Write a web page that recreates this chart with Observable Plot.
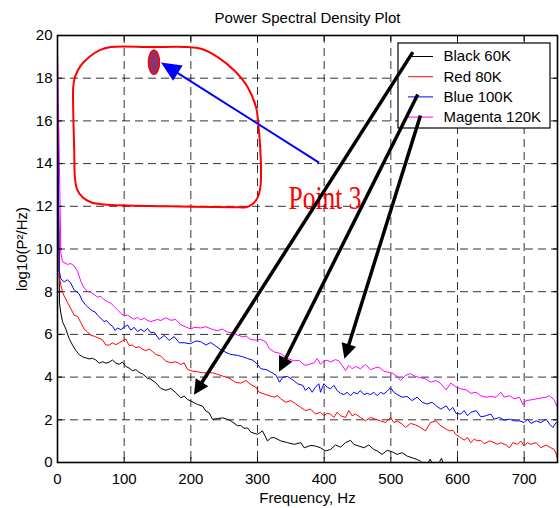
<!DOCTYPE html>
<html>
<head>
<meta charset="utf-8">
<script src="https://cdn.jsdelivr.net/npm/d3@7"></script>
<script src="https://cdn.jsdelivr.net/npm/@observablehq/plot@0.6"></script>
<style>
html, body { margin: 0; padding: 0; background: #fff; }
#chart { width: 560px; height: 508px; }
</style>
</head>
<body>
<div id="chart"></div>
<script>
// ---------- text ----------
const title = "Power Spectral Density Plot";
const xLabel = "Frequency, Hz";
const yLabel = "log10(P²/Hz)";
const annotationText = "Point 3";

// ---------- ticks ----------
const xTicks = [0, 100, 200, 300, 400, 500, 600, 700];
const yTicks = [0, 2, 4, 6, 8, 10, 12, 14, 16, 18, 20];

// ---------- series ----------
const seriesNames = ["Black 60K", "Red 80K", "Blue 100K", "Magenta 120K"];
const seriesColors = ["#000000", "#ff0000", "#0000ff", "#ff00ff"];

// [frequency Hz, log10(P^2/Hz)]
const black60K = [
  [0, 17.0], [3, 7.46], [5, 7.0], [7.5, 6.6], [12.5, 6.25], [17.5, 5.8], [22.5, 5.5], [27.5, 5.25],
  [32.5, 5.05], [37.5, 4.95], [42.5, 4.9], [47.5, 4.85], [52.5, 4.88], [57.5, 4.8], [62.5, 4.65],
  [67.5, 4.72], [72.5, 4.65], [77.5, 4.7], [82.5, 4.8], [87.5, 4.66], [92.5, 4.6], [97.5, 4.7],
  [102.5, 4.5], [107.5, 4.42], [112.5, 4.3], [117.5, 4.35], [122.5, 4.22], [127.5, 4.15], [135, 3.95],
  [140, 3.9], [147.5, 3.73], [155, 3.47], [162.5, 3.38], [170, 3.47], [177.5, 3.27], [185, 3.03],
  [190, 3.11], [195, 2.95], [200, 2.88], [205, 2.8], [210, 2.72], [217.5, 2.64], [222.5, 2.41],
  [227.5, 2.33], [232.5, 2.02], [240, 2.06], [247.5, 2.09], [255, 2.02], [260, 1.95], [270, 1.72],
  [275, 1.73], [280, 1.6], [285, 1.62], [290, 1.42], [300, 1.32], [307.5, 1.48], [315, 1.01],
  [320, 1.15], [325, 1.17], [335, 1.01], [345, 0.93], [355, 0.85], [365, 0.93], [370, 0.69],
  [380, 0.8], [387, 0.77], [394.5, 0.69], [402, 0.54], [409.5, 0.61], [417, 0.82], [424.5, 0.72],
  [432, 0.93], [439.5, 1.04], [444.5, 0.85], [452, 0.77], [459.5, 0.69], [467, 0.82], [474.5, 0.61],
  [479.5, 0.54], [487, 0.38], [494.5, 0.57], [502, 0.5], [509.5, 0.38], [517, 0.46], [524.5, 0.3],
  [532, 0.22], [539.5, 0.14], [544.5, 0.06], [549.5, -0.1], [555, -0.05], [559, 0.15], [563, -0.1],
  [570, -0.15], [576, 0.2], [580, -0.2], [590, -0.4], [610, -0.5]
];
const red80K = [
  [0, 17.6], [2.5, 8.7], [5, 8.3], [7.5, 8.0], [10, 7.8], [15, 7.5], [20, 7.2], [25, 6.9], [30, 6.85],
  [35, 6.55], [40, 6.25], [45, 6.12], [50, 5.95], [55, 5.92], [60, 5.85], [67.5, 5.75], [72.5, 5.5],
  [77.5, 5.5], [82.5, 5.6], [87.5, 5.52], [92.5, 5.6], [97.5, 5.7], [102.5, 5.78], [107.5, 5.48],
  [112.5, 5.5], [117.5, 5.38], [122.5, 5.42], [127.5, 5.3], [132.5, 5.24], [137.5, 5.32], [142.5, 5.2],
  [147.5, 5.06], [155, 4.98], [162.5, 4.75], [170, 4.67], [177.5, 4.72], [185, 4.59], [190, 4.67],
  [195, 4.36], [202.5, 4.28], [210, 4.25], [217.5, 4.2], [225, 4.2], [232.5, 4.2], [240, 4.13],
  [247.5, 4.05], [255, 3.98], [260, 3.9], [267.5, 3.75], [275, 3.72], [282.5, 3.84], [290, 3.65],
  [297.5, 3.53], [302.5, 3.29], [310, 3.21], [317.5, 3.13], [325, 3.06], [330, 3.13], [335, 2.98],
  [342.5, 2.82], [350, 2.9], [357.5, 2.74], [365, 2.58], [372, 2.43], [379.5, 2.5], [387, 2.27],
  [394.5, 2.35], [399.5, 2.19], [404.5, 2.3], [409.5, 2.27], [414.5, 2.11], [419.5, 2.35], [424.5, 2.19],
  [432, 2.11], [437, 2.43], [442, 2.19], [447, 2.27], [454.5, 2.11], [462, 1.95], [469.5, 2.11],
  [477, 2.03], [484.5, 1.95], [492, 1.87], [499.5, 2.11], [504.5, 1.87], [509.5, 1.95], [517, 1.8],
  [522, 1.64], [529.5, 1.83], [537, 1.76], [544.5, 1.64], [552, 1.48], [559.5, 1.87], [568, 1.95],
  [575, 1.72], [583, 1.56], [588, 1.48], [593, 1.51], [598, 1.3], [603, 1.2], [610, 1.05], [615, 1.17],
  [620, 0.93], [625, 1.09], [630, 1.01], [635, 1.04], [640, 0.88], [648, 1.01], [655, 0.93], [660, 0.85],
  [665, 0.93], [673, 0.82], [678, 0.69], [683, 0.93], [690, 0.85], [695, 1.01], [700, 0.77], [705, 0.93],
  [710, 0.85], [718, 0.93], [725, 0.69], [733, 0.82], [740, 0.69], [745, 0.61], [748, 0.4], [751, 0.05]
];
const blue100K = [
  [0, 18.4], [2.5, 9.0], [5, 8.6], [10, 8.46], [15, 8.56], [20, 8.4], [25, 8.08], [28.5, 8.0],
  [32.5, 7.9], [36.5, 7.62], [41.5, 7.4], [45, 7.3], [47.5, 7.22], [52.5, 7.1], [56.5, 7.05], [60, 6.9],
  [65, 6.75], [70, 6.6], [73.5, 6.65], [77.5, 6.5], [82.5, 6.38], [86.5, 6.18], [90, 6.3], [95, 6.22],
  [100, 6.34], [105, 6.44], [110, 6.2], [115, 6.33], [120, 6.13], [125, 6.24], [130, 6.13], [135, 6.28],
  [140, 6.08], [145, 6.1], [152.5, 5.77], [160, 5.95], [167.5, 5.72], [175, 5.9], [182.5, 5.61],
  [190, 5.61], [199, 5.56], [207.5, 5.69], [215, 5.66], [222.5, 5.5], [230, 5.62], [237.5, 5.45],
  [245, 5.28], [252.5, 5.16], [260, 5.06], [270, 5.02], [278, 4.95], [285, 4.87], [293, 4.79],
  [300, 4.6], [305, 4.39], [313, 4.35], [320, 4.24], [328, 4.08], [333, 3.76], [338, 4.0], [345, 4.03],
  [353, 3.87], [360, 3.69], [368, 3.61], [372, 3.37], [377, 3.53], [382, 3.29], [387, 3.53], [392, 3.69],
  [394.5, 3.29], [399.5, 3.69], [404.5, 3.53], [409.5, 3.45], [414.5, 3.61], [419.5, 3.37], [424.5, 3.24],
  [429.5, 3.18], [434.5, 3.29], [439.5, 3.13], [444.5, 3.29], [449.5, 3.21], [454.5, 3.37], [459.5, 3.18],
  [464.5, 3.24], [469.5, 3.18], [474.5, 3.29], [479.5, 3.13], [484.5, 3.29], [489.5, 3.21], [494.5, 3.34],
  [499.5, 3.5], [504.5, 3.29], [509.5, 3.18], [517, 3.06], [524.5, 3.09], [532, 2.9], [539.5, 3.06],
  [547, 2.82], [554.5, 2.74], [562, 2.82], [568, 2.66], [575, 2.5], [583, 2.66], [588, 2.43], [593, 2.58],
  [598, 2.3], [605, 2.27], [610, 2.43], [615, 2.19], [620, 2.35], [628, 2.43], [635, 2.14], [643, 2.19],
  [650, 2.27], [655, 2.03], [663, 2.11], [670, 1.98], [678, 2.03], [685, 1.95], [693, 1.95], [700, 1.87],
  [705, 2.03], [710, 1.83], [718, 1.95], [725, 1.87], [733, 2.03], [738, 1.8], [743, 1.64], [748, 1.87],
  [751, 1.8]
];
const magenta120K = [
  [0, 19.3], [5, 9.8], [7.5, 9.4], [15, 9.28], [20, 9.32], [25, 9.2], [30, 8.96], [35, 8.49], [40, 8.17],
  [45, 8.02], [50, 7.97], [55, 7.86], [60, 7.75], [65, 7.78], [70, 7.62], [75, 7.54], [80, 7.46],
  [85, 7.31], [90, 7.15], [95, 6.99], [100, 6.87], [105, 6.91], [110, 6.8], [115, 6.71], [120, 6.8],
  [125, 6.68], [130, 6.76], [135, 6.65], [140, 6.6], [150, 6.7], [155, 6.65], [162.5, 6.78], [170, 6.66],
  [177.5, 6.7], [185, 6.45], [192.5, 6.35], [200, 6.25], [205, 6.33], [215, 6.3], [222.5, 6.36],
  [230, 6.26], [240, 6.17], [247.5, 6.25], [255, 6.1], [262.5, 6.08], [270, 5.97], [277.5, 5.89],
  [282.5, 5.92], [290, 5.76], [297.5, 5.73], [305, 5.76], [312.5, 5.65], [317.5, 5.34], [325, 5.18],
  [335, 5.1], [345, 4.87], [355, 4.76], [362.5, 4.79], [367.5, 4.63], [372, 4.55], [377, 4.6],
  [384.5, 4.66], [389.5, 4.87], [394.5, 4.6], [399.5, 4.76], [404.5, 4.79], [409.5, 4.71], [417, 4.82],
  [422, 4.76], [427, 4.55], [432, 4.31], [437, 4.55], [442, 4.39], [447, 4.5], [454.5, 4.39], [462, 4.6],
  [469.5, 4.35], [477, 4.44], [482, 4.47], [489.5, 4.28], [494.5, 4.24], [502, 4.19], [509.5, 4.03],
  [514.5, 3.84], [522, 4.08], [529.5, 4.16], [537, 4.03], [544.5, 3.97], [552, 3.92], [559.5, 3.76],
  [568, 3.84], [575, 3.69], [583, 3.4], [590, 3.72], [598, 3.53], [605, 3.45], [613, 3.4], [620, 3.24],
  [628, 3.29], [635, 3.13], [643, 3.06], [650, 3.09], [658, 3.06], [665, 3.29], [670, 3.06], [678, 3.13],
  [685, 2.98], [693, 3.06], [698, 2.71], [703, 2.9], [710, 2.93], [718, 2.98], [725, 3.02], [733, 3.06],
  [738, 3.13], [745, 2.93], [751, 2.5]
];
const seriesData = [black60K, red80K, blue100K, magenta120K];

// ---------- annotations (data units) ----------
const redLoop = [
  [80.1, 19.46], [140.2, 19.46], [195.2, 19.46], [215.2, 19.38], [240.3, 18.99], [265.2, 18.36],
  [285.3, 17.58], [297.8, 16.64], [301.2, 15.87], [304.3, 14.61], [305.3, 13.52], [304.3, 12.89],
  [300.3, 12.42], [292.8, 12.11], [282.8, 11.96], [265.2, 11.96], [165.2, 12.0], [70.1, 12.08],
  [50.1, 12.19], [37.6, 12.42], [29.1, 12.82], [26.1, 13.36], [25.1, 14.61], [23.6, 16.49],
  [23.6, 17.58], [26.1, 18.05], [35.1, 18.6], [47.6, 18.99], [62.6, 19.3]
];
const markerPoint = [[144.7, 18.75]];
const labelPoint = [[346.5, 11.88]];
const blueArrow = [{from: [392.3, 14.05], to: [155.2, 18.74]}];
const blackArrows = [
  {from: [533.0, 19.22], to: [204.7, 3.17]},
  {from: [540.4, 17.24], to: [332.3, 4.25]},
  {from: [544.4, 16.25], to: [430.3, 4.86]}
];

// ---------- layout ----------
const fontSans = "'Liberation Sans', Arial, Helvetica, sans-serif";
const fs = 15;
const layout = {
  width: 560, height: 508,
  marginLeft: 57, marginRight: 3, marginTop: 35, marginBottom: 46,
  x: {domain: [0, 750]},
  y: {domain: [0, 20]},
  style: {fontFamily: fontSans, fontSize: fs + "px", background: "#fff", color: "#000", overflow: "visible"}
};
// legend box in pixels
const legendPx = {left: 398, right: 550, top: 43, bottom: 128, lineX1: 408, lineX2: 433, textX: 443, rowY0: 56, rowStep: 20.2};

const px = d => d[0], py = d => d[1];

// probe pass to get scales
const probe = Plot.plot({...layout, marks: [Plot.line(black60K, {x: px, y: py})]});
const sx = probe.scale("x"), sy = probe.scale("y");

function arrowGeom(a, headLen) {
  const x1 = sx.apply(a.from[0]), y1 = sy.apply(a.from[1]);
  const x2 = sx.apply(a.to[0]), y2 = sy.apply(a.to[1]);
  const dx = x2 - x1, dy = y2 - y1, len = Math.hypot(dx, dy);
  const ux = dx / len, uy = dy / len;
  const ex = x2 - ux * headLen * 0.6, ey = y2 - uy * headLen * 0.6;
  return {x1: a.from[0], y1: a.from[1], x2: sx.invert(ex), y2: sy.invert(ey),
          tx: a.to[0], ty: a.to[1], angle: Math.atan2(dx, -dy) * 180 / Math.PI};
}
function headSymbol(L, hw) {
  return {draw(ctx) { ctx.moveTo(0, 0); ctx.lineTo(hw, L); ctx.lineTo(-hw, L); ctx.closePath(); }};
}
function ellipseSymbol(rx, ry) {
  const k = 0.5523;
  return {draw(ctx) {
    ctx.moveTo(rx, 0);
    ctx.bezierCurveTo(rx, ry * k, rx * k, ry, 0, ry);
    ctx.bezierCurveTo(-rx * k, ry, -rx, ry * k, -rx, 0);
    ctx.bezierCurveTo(-rx, -ry * k, -rx * k, -ry, 0, -ry);
    ctx.bezierCurveTo(rx * k, -ry, rx, -ry * k, rx, 0);
    ctx.closePath();
  }};
}

const blueHeadLen = 20, blackHeadLen = 15;
const blueArrowG = blueArrow.map(a => arrowGeom(a, blueHeadLen));
const blackArrowG = blackArrows.map(a => arrowGeom(a, blackHeadLen));

const legendRows = seriesNames.map((name, i) => ({
  name, color: seriesColors[i],
  y: sy.invert(legendPx.rowY0 + i * legendPx.rowStep)
}));
const lgBox = {x1: sx.invert(legendPx.left), x2: sx.invert(legendPx.right),
               y1: sy.invert(legendPx.bottom), y2: sy.invert(legendPx.top)};

const gridStyle = {stroke: "#000", strokeOpacity: 0.8, strokeWidth: 1, strokeDasharray: "8,5"};
const noText = () => "";

const chart = Plot.plot({
  ...layout,
  marks: [
    Plot.gridX(xTicks.filter(d => d > 0), gridStyle),
    Plot.gridY(yTicks.filter(d => d > 0 && d < 20), gridStyle),
    ...seriesData.map((s, i) => Plot.line(s, {x: px, y: py, stroke: seriesColors[i], strokeWidth: 1, clip: true})),
    // axes: labels
    Plot.axisX(xTicks, {anchor: "bottom", tickSize: 0, tickPadding: 11, fontSize: fs, label: null}),
    Plot.axisY(yTicks, {anchor: "left", tickSize: 0, tickPadding: 5, fontSize: fs, label: null}),
    // inward ticks
    Plot.axisX(xTicks, {anchor: "bottom", tickSize: -5, tickFormat: noText, label: null}),
    Plot.axisX(xTicks, {anchor: "top", tickSize: -5, tickFormat: noText, label: null}),
    Plot.axisY(yTicks, {anchor: "left", tickSize: -5, tickFormat: noText, label: null}),
    Plot.axisY(yTicks, {anchor: "right", tickSize: -5, tickFormat: noText, label: null}),
    Plot.frame({stroke: "#000", strokeWidth: 1.6}),
    // titles
    Plot.text([title], {frameAnchor: "top", dy: -12.5, lineAnchor: "bottom", fontSize: fs}),
    Plot.text([xLabel], {frameAnchor: "bottom", dy: 40, lineAnchor: "bottom", fontSize: fs}),
    Plot.text([yLabel], {frameAnchor: "left", dx: -35.5, rotate: -90, textAnchor: "middle", fontSize: fs}),
    // annotations
    Plot.line(redLoop, {x: px, y: py, curve: "catmull-rom-closed", stroke: "#ff0000", strokeWidth: 2}),
    Plot.dot(markerPoint, {x: px, y: py, symbol: ellipseSymbol(5.5, 12), fill: "#8b3470", stroke: "#ff0000", strokeWidth: 1.5}),
    Plot.link(blueArrowG, {x1: "x1", y1: "y1", x2: "x2", y2: "y2", stroke: "#0000ff", strokeWidth: 2}),
    Plot.dot(blueArrowG, {x: "tx", y: "ty", rotate: "angle", symbol: headSymbol(blueHeadLen, 9), fill: "#0000ff", stroke: "none"}),
    Plot.text(labelPoint, {x: px, y: py, text: () => annotationText, textAnchor: "start", lineAnchor: "bottom",
      fontFamily: "'Liberation Serif', 'Times New Roman', Times, serif", fontSize: 33, fill: "#ff0000"}),
    // legend
    Plot.rect([lgBox], {x1: "x1", x2: "x2", y1: "y1", y2: "y2", fill: "#fff", stroke: "#000", strokeWidth: 1.2}),
    ...legendRows.map(r => Plot.ruleY([r], {y: "y", x1: sx.invert(legendPx.lineX1), x2: sx.invert(legendPx.lineX2), stroke: r.color, strokeWidth: 1})),
    Plot.text(legendRows, {x: sx.invert(legendPx.textX), y: "y", text: "name", textAnchor: "start", fontSize: fs, fill: "#000"}),
    // black arrows
    Plot.link(blackArrowG, {x1: "x1", y1: "y1", x2: "x2", y2: "y2", stroke: "#000", strokeWidth: 3.5}),
    Plot.dot(blackArrowG, {x: "tx", y: "ty", rotate: "angle", symbol: headSymbol(blackHeadLen, 7.5), fill: "#000", stroke: "none"})
  ]
});

d3.select(chart).selectAll("text")
  .filter(function() { return this.textContent === annotationText; })
  .attr("textLength", 73)
  .attr("lengthAdjust", "spacingAndGlyphs");

document.getElementById("chart").append(chart);
</script>
</body>
</html>
